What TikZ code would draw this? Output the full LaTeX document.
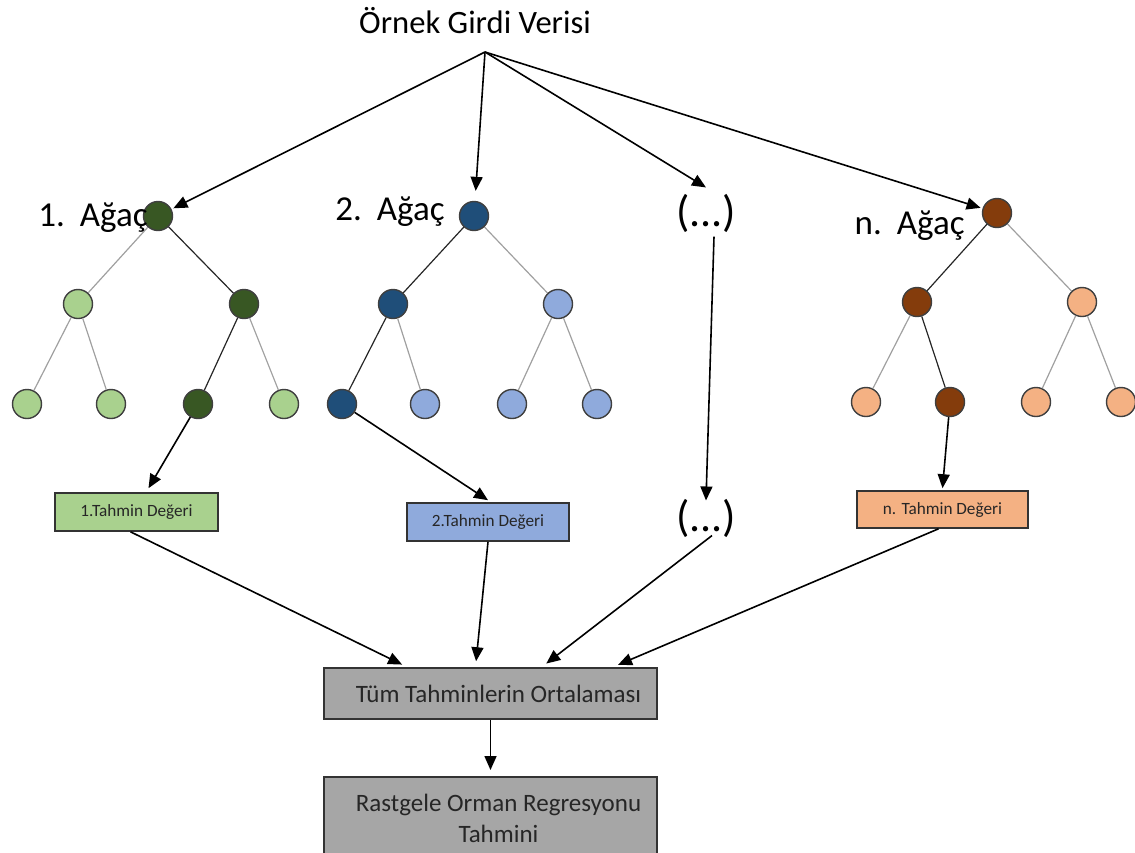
\documentclass[tikz,border=0pt]{standalone}
\usepackage{fontspec}
\setmainfont{Carlito}
\usetikzlibrary{arrows.meta}

\definecolor{yesilK}{HTML}{385723}
\definecolor{yesilA}{HTML}{A9D18E}
\definecolor{maviK}{HTML}{1F4E79}
\definecolor{maviA}{HTML}{8FAADC}
\definecolor{kahveK}{HTML}{843C0C}
\definecolor{turuncuA}{HTML}{F4B183}
\definecolor{griK}{HTML}{A6A6A6}
\definecolor{kenar}{HTML}{3F3F3F}
\definecolor{dalgri}{HTML}{A0A0A0}

\begin{document}
\begin{tikzpicture}[x=0.5pt,y=-0.5pt,
    dugum/.style={circle, draw=kenar, line width=0.7pt, minimum size=14.5pt, inner sep=0pt},
    acik/.style={draw=dalgri, line width=0.6pt},
    koyu/.style={draw=black!85, line width=0.6pt},
    ok/.style={-{Triangle[length=7pt,width=6pt]}, line width=0.8pt, black},
    kutu/.style={draw=black!80, line width=0.8pt, inner sep=0pt, text=black!85,
        font=\fontsize{8.6}{10}\selectfont},
    buyuk/.style={font=\fontsize{16.3}{19}\selectfont, inner sep=0pt},
    agac/.style={font=\fontsize{17.5}{20}\selectfont, inner sep=0pt, anchor=base east}]
    \useasboundingbox (0,0) rectangle (1135,852);

    % Input
    \node[buyuk, anchor=base] (girdi) at (475,33) {Örnek Girdi Verisi};
    \coordinate (kaynak) at (485,52);

    % Tree 1
    \node[dugum, fill=yesilK] (a1) at (158,216) {};
    \node[dugum, fill=yesilA] (a1l) at (78,304) {};
    \node[dugum, fill=yesilK] (a1r) at (244,304) {};
    \node[dugum, fill=yesilA] (a1ll) at (27,404) {};
    \node[dugum, fill=yesilA] (a1lr) at (111,404) {};
    \node[dugum, fill=yesilK] (a1rl) at (198,404) {};
    \node[dugum, fill=yesilA] (a1rr) at (284,404) {};
    \node[agac] (e1) at (148,226) {1.\hspace{7.5pt}Ağaç};
    \draw[acik] (a1) -- (a1l);
    \draw[koyu] (a1) -- (a1r);
    \draw[acik] (a1l) -- (a1ll);
    \draw[acik] (a1l) -- (a1lr);
    \draw[koyu] (a1r) -- (a1rl);
    \draw[acik] (a1r) -- (a1rr);

    % Tree 2
    \node[dugum, fill=maviK] (a2) at (474,216) {};
    \node[dugum, fill=maviK] (a2l) at (393,304) {};
    \node[dugum, fill=maviA] (a2r) at (558,304) {};
    \node[dugum, fill=maviK] (a2ll) at (342,404) {};
    \node[dugum, fill=maviA] (a2lr) at (425,404) {};
    \node[dugum, fill=maviA] (a2rl) at (512,404) {};
    \node[dugum, fill=maviA] (a2rr) at (597,404) {};
    \node[agac] (e2) at (445,220) {2.\hspace{7.5pt}Ağaç};
    \draw[koyu] (a2) -- (a2l);
    \draw[acik] (a2) -- (a2r);
    \draw[koyu] (a2l) -- (a2ll);
    \draw[acik] (a2l) -- (a2lr);
    \draw[acik] (a2r) -- (a2rl);
    \draw[acik] (a2r) -- (a2rr);

    % Other trees
    \node[font=\fontsize{22}{26}\selectfont, inner sep=2pt] (nokta1) at (706,213) {(...)};
    \node[font=\fontsize{22}{26}\selectfont, inner sep=2pt] (nokta2) at (706,518) {(...)};

    % Tree n
    \node[dugum, fill=kahveK] (an) at (997,213) {};
    \node[dugum, fill=kahveK] (anl) at (917,302) {};
    \node[dugum, fill=turuncuA] (anr) at (1082,302) {};
    \node[dugum, fill=turuncuA] (anll) at (866,402) {};
    \node[dugum, fill=kahveK] (anlr) at (950,402) {};
    \node[dugum, fill=turuncuA] (anrl) at (1036,402) {};
    \node[dugum, fill=turuncuA] (anrr) at (1121,402) {};
    \node[agac] (en) at (965,234) {n.\hspace{7.5pt}Ağaç};
    \draw[koyu] (an) -- (anl);
    \draw[acik] (an) -- (anr);
    \draw[acik] (anl) -- (anll);
    \draw[koyu] (anl) -- (anlr);
    \draw[acik] (anr) -- (anrl);
    \draw[acik] (anr) -- (anrr);

    % Predictions
    \node[kutu, fill=yesilA, minimum width=81.5pt, minimum height=19pt] (t1) at (136.5,512) {1.Tahmin Değeri};
    \node[kutu, fill=maviA, minimum width=81pt, minimum height=19pt] (t2) at (488,522) {2.Tahmin Değeri};
    \node[kutu, fill=turuncuA, minimum width=85.5pt, minimum height=18.5pt] (tn) at (942.5,509.5) {n. Tahmin Değeri};

    % Average and result
    \node[kutu, fill=griK, minimum width=166.5pt, minimum height=25.5pt,
        font=\fontsize{12.5}{14}\selectfont] (ort) at (490.5,693.5) {\hspace{8pt}Tüm Tahminlerin Ortalaması};
    \node[kutu, fill=griK, minimum width=166.5pt, minimum height=42pt, anchor=north,
        font=\fontsize{12.5}{15}\selectfont, align=center] (sonuc) at (490.5,776)
        {\hspace{8pt}Rastgele Orman Regresyonu\\[0.5pt]\hspace{8pt}Tahmini};

    % Arrows from input
    \draw[ok, shorten >=1pt] (kaynak) -- (a1);
    \draw[ok, shorten >=5pt] (kaynak) -- (a2);
    \draw[ok] (kaynak) -- ([yshift=1pt]nokta1.north);
    \draw[ok, shorten >=1pt] (kaynak) -- (an);

    % Arrows to predictions
    \draw[ok] (a1rl) -- ([xshift=6pt,yshift=2pt]t1.north);
    \draw[ok] (a2ll) -- ([yshift=1pt]t2.north);
    \draw[ok] ([xshift=4pt]nokta1.south) -- ([yshift=-3pt]nokta2.north);
    \draw[ok] (anlr) -- ([yshift=1pt]tn.north);

    % Arrows to average
    \draw[ok, shorten >=3pt] ([xshift=-3pt]t1.south) -- ([xshift=-41.5pt]ort.north);
    \draw[ok, shorten >=3pt] (t2.south) -- ([xshift=-7.5pt]ort.north);
    \draw[ok, shorten >=3pt] ([xshift=3pt,yshift=3pt]nokta2.south) -- ([xshift=25.5pt]ort.north);
    \draw[ok, shorten >=3pt] ([xshift=-2pt]tn.south) -- ([xshift=61pt]ort.north);
    \draw[ok, shorten >=3pt] (ort.south) -- (sonuc.north);
\end{tikzpicture}
\end{document}
